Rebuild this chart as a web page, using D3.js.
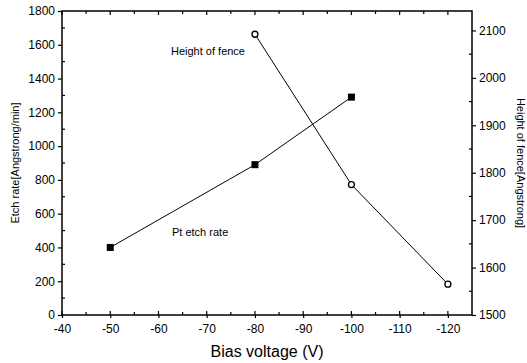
<!DOCTYPE html>
<html><head><meta charset="utf-8">
<script src="https://cdn.jsdelivr.net/npm/d3@7"></script>
<style>body{margin:0;background:#fff}svg{display:block}text{font-family:"Liberation Sans",Arial,sans-serif;fill:#000}</style>
</head><body>
<script>
const etchVoltage = [-50, -80, -100];
const etchRate = [400, 890, 1290];
const fenceVoltage = [-80, -100, -120];
const fenceHeight = [2092, 1775, 1565];
const xTicks = [-40, -50, -60, -70, -80, -90, -100, -110, -120];
const yLeftTicks = [0, 200, 400, 600, 800, 1000, 1200, 1400, 1600, 1800];
const yRightTicks = [1500, 1600, 1700, 1800, 1900, 2000, 2100];

const W = 527, H = 363;
const L = 62, R = 472, T = 11, B = 315;
const svg = d3.select("body").append("svg").attr("width", W).attr("height", H);

const x = d3.scaleLinear().domain([-40, -125]).range([L, R]);
const yL = d3.scaleLinear().domain([0, 1800]).range([B, T]);
const yR = d3.scaleLinear().domain([1500, 2141]).range([B, T]);
const fmt = d => String(d);

svg.append("rect").attr("x", L).attr("y", T).attr("width", R - L).attr("height", B - T)
  .attr("fill", "none").attr("stroke", "#000").attr("stroke-width", 1.5);

const tickStyle = g => { g.select(".domain").remove(); g.selectAll("line").attr("stroke", "#000").attr("stroke-width", 1.2); g.selectAll("text").attr("font-size", 12); };

const xMinor = d3.range(-45, -125, -10);
svg.append("g").attr("transform", `translate(0,${B})`)
  .call(d3.axisBottom(x).tickValues(xTicks).tickSize(3).tickPadding(6).tickFormat(fmt))
  .call(tickStyle);
svg.append("g").selectAll("line").data(xTicks).join("line")
  .attr("x1", d => x(d)).attr("x2", d => x(d)).attr("y1", B).attr("y2", B - 4).attr("stroke", "#000").attr("stroke-width", 1.2);
svg.append("g").selectAll("line").data(xMinor).join("line")
  .attr("x1", d => x(d)).attr("x2", d => x(d)).attr("y1", B).attr("y2", B - 3).attr("stroke", "#000").attr("stroke-width", 1.2);
svg.append("g").selectAll("line").data(xTicks.concat(xMinor)).join("line")
  .attr("x1", d => x(d)).attr("x2", d => x(d)).attr("y1", T).attr("y2", d => T + (d % 10 === 0 ? 4 : 3)).attr("stroke", "#000").attr("stroke-width", 1.2);

svg.append("g").attr("transform", `translate(${L},0)`)
  .call(d3.axisLeft(yL).tickValues(yLeftTicks).tickSize(4).tickPadding(3).tickFormat(fmt))
  .call(tickStyle);
svg.append("g").selectAll("line").data(d3.range(100, 1800, 200)).join("line")
  .attr("x1", L).attr("x2", L + 3).attr("y1", d => yL(d)).attr("y2", d => yL(d)).attr("stroke", "#000").attr("stroke-width", 1.2);

svg.append("g").attr("transform", `translate(${R},0)`)
  .call(d3.axisRight(yR).tickValues(yRightTicks).tickSize(4).tickPadding(3).tickFormat(fmt))
  .call(tickStyle);
svg.append("g").selectAll("line").data(d3.range(1550, 2141, 100)).join("line")
  .attr("x1", R).attr("x2", R - 3).attr("y1", d => yR(d)).attr("y2", d => yR(d)).attr("stroke", "#000").attr("stroke-width", 1.2);

svg.append("text").attr("x", 267).attr("y", 357).attr("text-anchor", "middle").attr("font-size", 16).text("Bias voltage (V)");
svg.append("text").attr("transform", `translate(19,${(T + B) / 2}) rotate(-90)`).attr("text-anchor", "middle").attr("font-size", 11).text("Etch rate[Angstrong/min]");
svg.append("text").attr("transform", `translate(517,${(T + B) / 2}) rotate(90)`).attr("text-anchor", "middle").attr("font-size", 11).text("Height of fence[Angstrong]");

const etch = etchVoltage.map((v, i) => [v, etchRate[i]]);
svg.append("path").datum(etch).attr("fill", "none").attr("stroke", "#000").attr("stroke-width", 1)
  .attr("d", d3.line().x(d => x(d[0])).y(d => yL(d[1])));
svg.append("g").selectAll("rect").data(etch).join("rect")
  .attr("x", d => x(d[0]) - 3.5).attr("y", d => yL(d[1]) - 3.5).attr("width", 7).attr("height", 7).attr("fill", "#000");

const fence = fenceVoltage.map((v, i) => [v, fenceHeight[i]]);
svg.append("path").datum(fence).attr("fill", "none").attr("stroke", "#000").attr("stroke-width", 1)
  .attr("d", d3.line().x(d => x(d[0])).y(d => yR(d[1])));
svg.append("g").selectAll("circle").data(fence).join("circle")
  .attr("cx", d => x(d[0])).attr("cy", d => yR(d[1])).attr("r", 3).attr("fill", "#fff").attr("stroke", "#000").attr("stroke-width", 1.3);

svg.append("text").attr("x", 171).attr("y", 55).attr("font-size", 11).text("Height of fence");
svg.append("text").attr("x", 172).attr("y", 236).attr("font-size", 11).text("Pt etch rate");
</script>
</body></html>
